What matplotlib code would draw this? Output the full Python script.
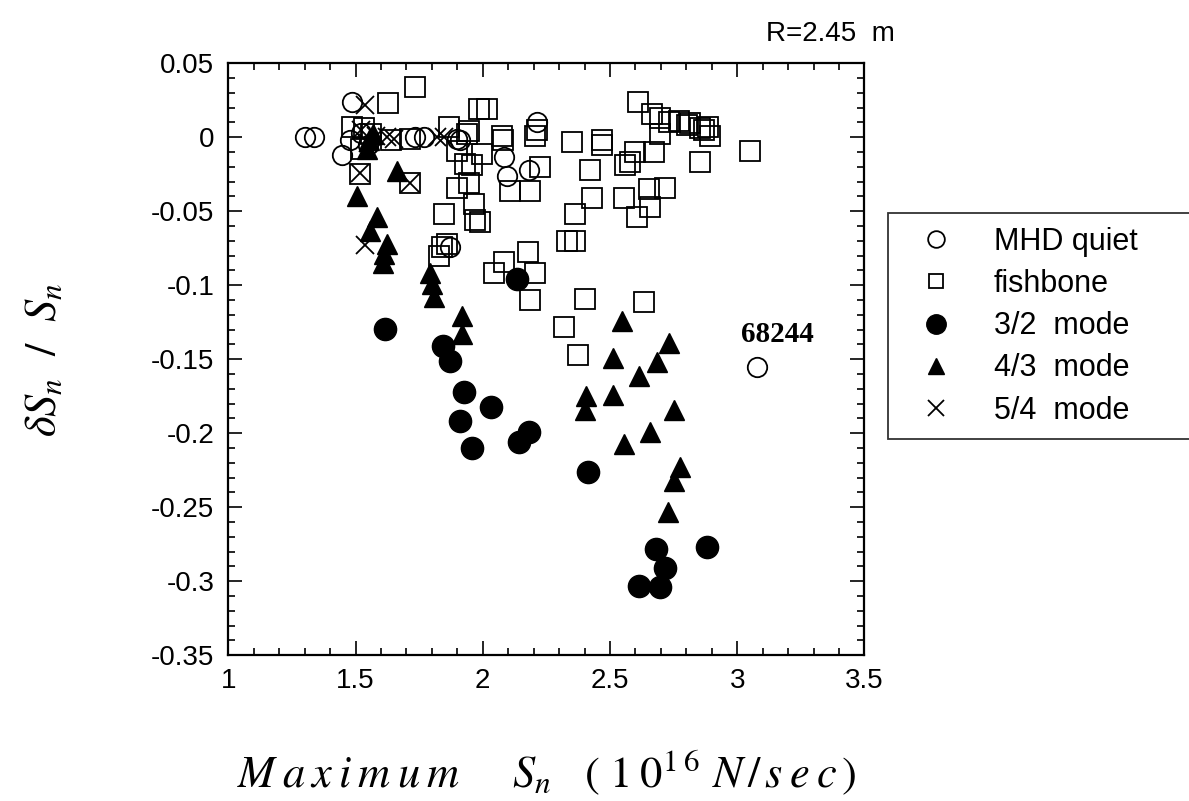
import matplotlib.pyplot as plt
from matplotlib.ticker import MultipleLocator

# ------------------------------
# Data
# ------------------------------
mhd_x = [1.30, 1.335, 1.486, 1.447, 1.48, 1.52, 1.55, 1.735, 1.768, 1.898, 1.873,
         1.912, 2.213, 2.082, 2.095, 2.18, 3.078]
mhd_y = [0.0, 0.0, 0.024, -0.012, -0.002, 0.003, -0.005, 0.0, 0.0, -0.001, -0.074,
         -0.002, 0.010, -0.013, -0.026, -0.022, -0.155]

fish_x = [1.732, 1.628, 1.486, 1.532, 1.56, 1.52, 1.641, 1.715, 1.866, 1.945, 1.984,
          1.899, 1.932, 1.899, 1.945, 1.846, 1.971, 1.84, 1.519, 1.715,
          2.016, 2.213, 2.207, 1.938, 2.076, 2.08, 1.997, 1.958, 2.226, 2.108, 2.187,
          1.964, 1.991, 2.35, 2.468, 2.468, 2.423, 2.43, 2.364, 2.331, 2.364,
          2.612, 2.665, 2.698, 2.731, 2.770, 2.803, 2.855, 2.698, 2.672, 2.56, 2.58,
          2.6, 2.855, 2.652, 2.718, 2.554, 2.659, 2.606, 2.868, 2.887, 2.895, 3.052,
          2.816, 2.177, 2.082, 2.207, 2.187, 2.403, 2.633, 2.318, 2.373, 1.859,
          1.827, 2.043]
fish_y = [0.034, 0.023, 0.007, 0.006, 0.002, -0.008, -0.002, -0.001, 0.007, 0.004, 0.019,
          -0.009, -0.018, -0.034, -0.031, -0.052, -0.056, -0.074, -0.0245, -0.031,
          0.019, 0.005, 0.001, 0.0025, 0.001, -0.002, -0.011, -0.019, -0.020, -0.036, -0.036,
          -0.045, -0.057, -0.003, -0.005, -0.002, -0.022, -0.041, -0.052, -0.070, -0.070,
          0.024, 0.016, 0.013, 0.010, 0.011, 0.008, 0.006, 0.0025, -0.010, -0.019, -0.017,
          -0.010, -0.017, -0.035, -0.034, -0.041, -0.047, -0.054, 0.005, 0.007, 0.001, -0.009,
          0.0095, -0.0775, -0.084, -0.092, -0.110, -0.109, -0.111, -0.128, -0.147, -0.072,
          -0.080, -0.092]

m32_x = [1.615, 1.842, 1.873, 1.925, 2.033, 1.909, 1.958, 2.141, 2.180, 2.135,
         2.413, 2.679, 2.715, 2.613, 2.698, 2.881]
m32_y = [-0.1295, -0.141, -0.151, -0.172, -0.182, -0.192, -0.210, -0.206, -0.199, -0.0955,
         -0.226, -0.278, -0.291, -0.303, -0.304, -0.277]

m43_x = [1.663, 1.506, 1.585, 1.558, 1.624, 1.611, 1.608, 1.792, 1.801, 1.808, 1.919,
         1.919, 2.548, 2.731, 2.511, 2.685, 2.616, 2.407, 2.512, 2.403, 2.753, 2.659,
         2.557, 2.777, 2.750, 2.727, 1.552, 1.57, 1.545]
m43_y = [-0.023, -0.040, -0.054, -0.063, -0.072, -0.079, -0.085, -0.092, -0.099, -0.108,
         -0.121, -0.133, -0.124, -0.139, -0.149, -0.152, -0.161, -0.175, -0.174, -0.184,
         -0.184, -0.199, -0.207, -0.223, -0.232, -0.253, -0.002, 0.002, -0.008]

m54_x = [1.539, 1.52, 1.55, 1.58, 1.624, 1.65, 1.519, 1.715, 1.82, 1.846, 1.539]
m54_y = [0.022, 0.005, -0.004, 0.001, 0.0, -0.001, -0.024, -0.031, 0.0, 0.0, -0.073]

shot_label = '68244'
shot_xy = (3.157, -0.133)

# ------------------------------
# Plot
# ------------------------------
plt.rcParams['font.family'] = ['Liberation Sans', 'DejaVu Sans']
plt.rcParams['mathtext.fontset'] = 'stix'

fig = plt.figure(figsize=(11.89, 8.01), dpi=100)
ax = fig.add_axes([0.192, 0.182, 0.535, 0.739])

lw = 1.3
ax.plot(mhd_x, mhd_y, 'o', ms=14, mfc='none', mec='black', mew=lw, label='MHD quiet')
ax.plot(fish_x, fish_y, 's', ms=14.5, mfc='none', mec='black', mew=lw, label='fishbone')
ax.plot(m32_x, m32_y, 'o', ms=16, color='black', label='3/2  mode')
ax.plot(m43_x, m43_y, '^', ms=14, color='black', label='4/3  mode')
ax.plot(m54_x, m54_y, 'x', ms=13, color='black', mew=lw, label='5/4  mode')

ax.text(shot_xy[0], shot_xy[1], shot_label, family='Liberation Serif', fontsize=21,
        fontweight='bold', ha='center', va='center')

ax.set_xlim(1, 3.5)
ax.set_ylim(-0.35, 0.05)
ax.xaxis.set_minor_locator(MultipleLocator(0.1))
ax.yaxis.set_minor_locator(MultipleLocator(0.01))
ax.set_xticks([1, 1.5, 2, 2.5, 3, 3.5])
ax.set_xticklabels(['1', '1.5', '2', '2.5', '3', '3.5'])
ax.set_yticks([0.05, 0, -0.05, -0.1, -0.15, -0.2, -0.25, -0.3, -0.35])
ax.set_yticklabels(['0.05', '0', '-0.05', '-0.1', '-0.15', '-0.2', '-0.25', '-0.3', '-0.35'])
ax.tick_params(which='both', direction='in', top=True, right=True, labelsize=20, width=1.2)
ax.tick_params(which='major', length=10, pad=10)
ax.tick_params(axis='x', which='major', pad=9)
ax.tick_params(which='minor', length=5)
for s in ax.spines.values():
    s.set_linewidth(1.6)

ax.set_xlabel(r'$M\:a\:x\:i\:m\:u\:m\ \ \ \ \ S_n\ \ \ (\ 1\:0^{1\;6}\ N\,/\,s\:e\:c\,)$',
              fontsize=32, labelpad=40)
ax.set_ylabel(r'$\delta S_n\ \ /\ \ S_n$', fontsize=32, labelpad=62)

fig.text(0.753, 0.957, 'R=2.45  m', fontsize=20, ha='right', va='center')

leg = ax.legend(loc='upper left', bbox_to_anchor=(0.747, 0.46, 0.28, 0.274),
                bbox_transform=fig.transFigure, mode='expand', borderaxespad=0,
                fontsize=22, frameon=True, fancybox=False, edgecolor='black',
                handlelength=2.2, handletextpad=0.8, labelspacing=0.4, borderpad=0.45)
leg.get_frame().set_linewidth(1.3)
for h, ms in zip(leg.legend_handles, [12, 10.5, 14, 11, 11]):
    h.set_markersize(ms)

fig.savefig('out.png', dpi=100)
